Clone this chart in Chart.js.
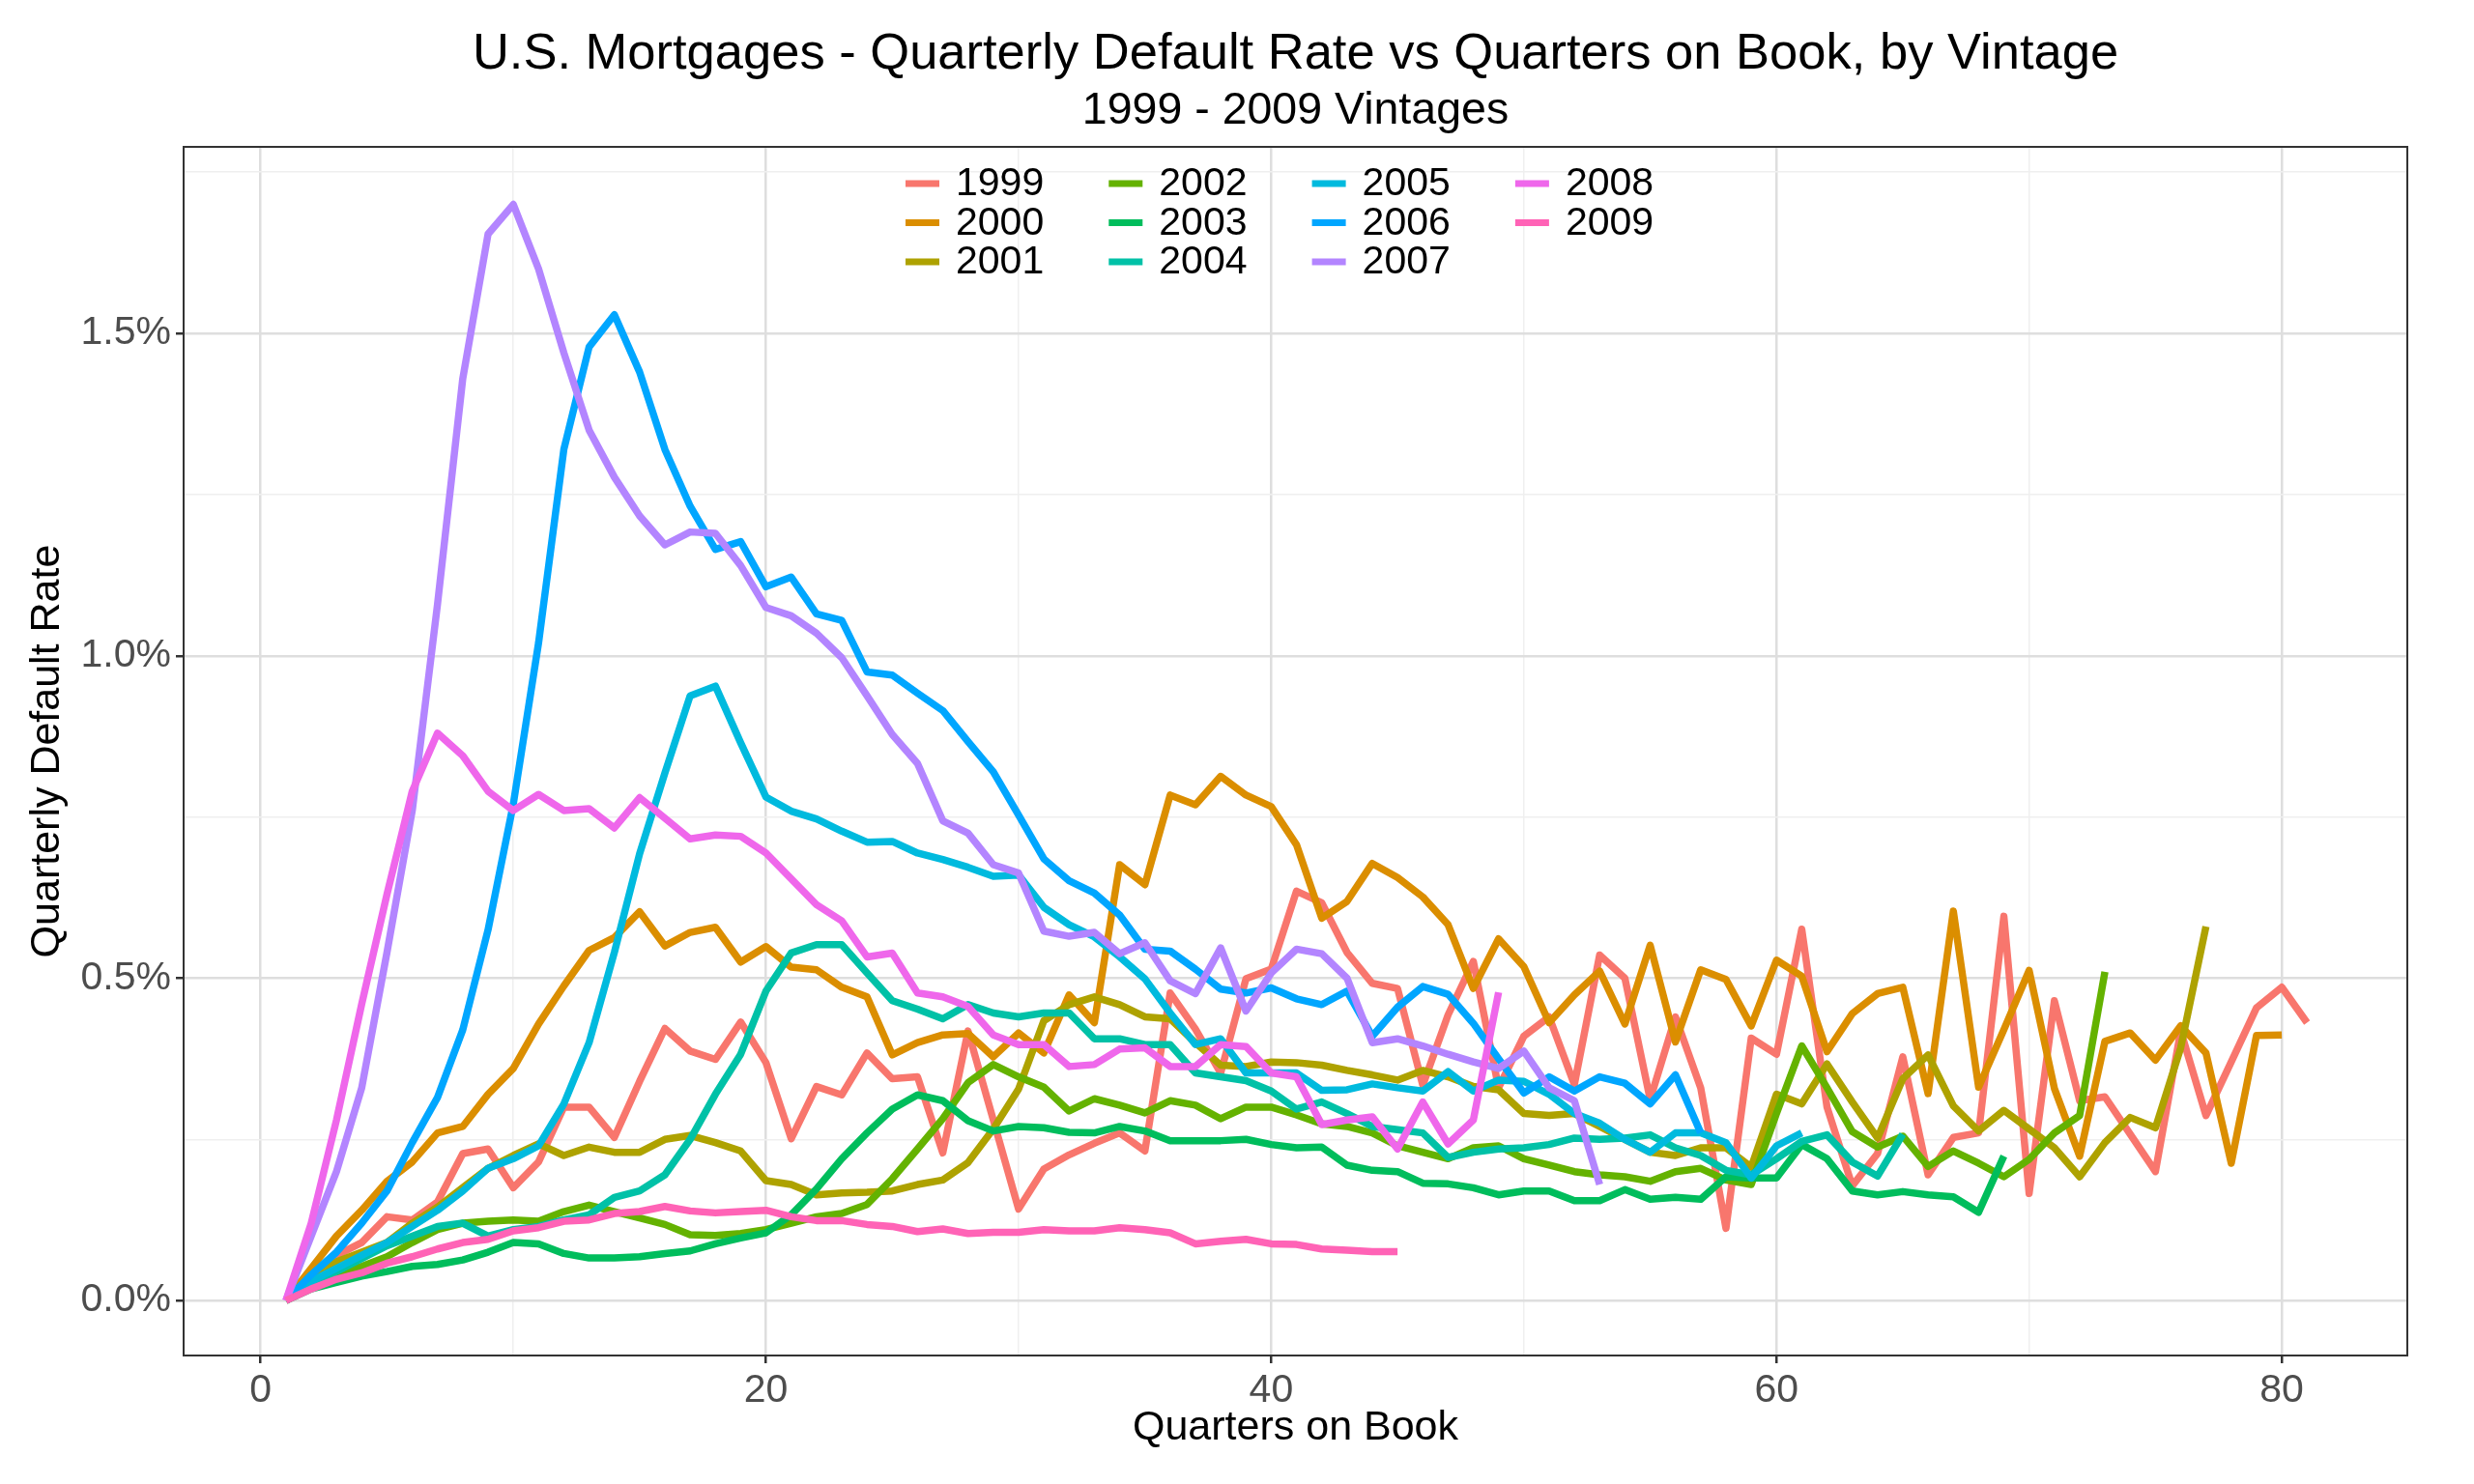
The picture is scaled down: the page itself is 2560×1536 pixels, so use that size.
<!DOCTYPE html>
<html><head><meta charset="utf-8">
<script src="https://cdn.jsdelivr.net/npm/chart.js@4.4.1/dist/chart.umd.min.js"></script>
<style>html,body{margin:0;padding:0;background:#fff}#wrap{width:2560px;height:1536px}</style>
</head><body><div id="wrap"><canvas id="c" width="2560" height="1536"></canvas></div>
<script>
const titleText = 'U.S. Mortgages - Quarterly Default Rate vs Quarters on Book, by Vintage';
const subtitleText = '1999 - 2009 Vintages';
const xTitle = 'Quarters on Book';
const yTitle = 'Quarterly Default Rate';

const quarters = [1,2,3,4,5,6,7,8,9,10,11,12,13,14,15,16,17,18,19,20,21,22,23,24,25,26,27,28,29,30,
  31,32,33,34,35,36,37,38,39,40,41,42,43,44,45,46,47,48,49,50,51,52,53,54,55,56,57,58,59,60,
  61,62,63,64,65,66,67,68,69,70,71,72,73,74,75,76,77,78,79,80,81];
const vintages = ['1999','2000','2001','2002','2003','2004','2005','2006','2007','2008','2009'];

const v1999 = [0, 0.04, 0.07, 0.09, 0.13, 0.125, 0.153, 0.228, 0.235, 0.175,
  0.215, 0.30, 0.30, 0.253, 0.34, 0.422, 0.387, 0.374, 0.432, 0.369,
  0.251, 0.332, 0.319, 0.384, 0.344, 0.347, 0.229, 0.418, 0.28, 0.142,
  0.204, 0.226, 0.244, 0.26, 0.232, 0.477, 0.421, 0.353, 0.499, 0.514,
  0.635, 0.617, 0.54, 0.492, 0.484, 0.334, 0.443, 0.526, 0.33, 0.41,
  0.44, 0.335, 0.536, 0.50, 0.312, 0.44, 0.33, 0.112, 0.407, 0.382,
  0.576, 0.30, 0.178, 0.228, 0.378, 0.195, 0.253, 0.26, 0.596, 0.166,
  0.465, 0.31, 0.316, 0.258, 0.20, 0.418, 0.287, 0.37, 0.454, 0.486,
  0.431];
const v2000 = [0, 0.05, 0.10, 0.14, 0.185, 0.215, 0.26, 0.27, 0.32, 0.36,
  0.429, 0.488, 0.543, 0.563, 0.603, 0.55, 0.571, 0.579, 0.525, 0.549,
  0.517, 0.513, 0.486, 0.471, 0.381, 0.40, 0.412, 0.414, 0.378, 0.415,
  0.384, 0.474, 0.431, 0.676, 0.645, 0.784, 0.769, 0.813, 0.784, 0.766,
  0.707, 0.593, 0.619, 0.678, 0.656, 0.626, 0.583, 0.484, 0.561, 0.518,
  0.431, 0.474, 0.511, 0.429, 0.551, 0.401, 0.513, 0.498, 0.426, 0.528,
  0.503, 0.386, 0.445, 0.476, 0.486, 0.321, 0.604, 0.331, 0.42, 0.512,
  0.329, 0.224, 0.402, 0.415, 0.373, 0.426, 0.384, 0.213, 0.411, 0.412];
const v2001 = [0, 0.04, 0.06, 0.075, 0.09, 0.12, 0.145, 0.175, 0.205, 0.225,
  0.243, 0.225, 0.238, 0.23, 0.23, 0.25, 0.256, 0.245, 0.232, 0.186,
  0.18, 0.164, 0.167, 0.168, 0.17, 0.18, 0.187, 0.214, 0.266, 0.328,
  0.434, 0.459, 0.471, 0.459, 0.44, 0.437, 0.40, 0.365, 0.363, 0.37,
  0.369, 0.365, 0.357, 0.35, 0.342, 0.357, 0.347, 0.332, 0.327, 0.29,
  0.287, 0.29, 0.27, 0.25, 0.23, 0.225, 0.237, 0.237, 0.207, 0.32,
  0.305, 0.367, 0.308, 0.252, 0.344, 0.381, 0.302, 0.263, 0.295, 0.266,
  0.237, 0.192, 0.245, 0.284, 0.268, 0.392, 0.58];
const v2002 = [0, 0.022, 0.04, 0.053, 0.068, 0.09, 0.11, 0.12, 0.123, 0.125,
  0.123, 0.138, 0.148, 0.138, 0.128, 0.118, 0.102, 0.101, 0.104, 0.11,
  0.12, 0.13, 0.135, 0.149, 0.189, 0.235, 0.282, 0.338, 0.366, 0.347,
  0.331, 0.294, 0.313, 0.303, 0.291, 0.31, 0.303, 0.282, 0.30, 0.30,
  0.288, 0.274, 0.27, 0.26, 0.24, 0.23, 0.22, 0.237, 0.24, 0.22,
  0.21, 0.20, 0.195, 0.192, 0.185, 0.20, 0.205, 0.187, 0.18, 0.29,
  0.395, 0.33, 0.262, 0.238, 0.255, 0.208, 0.232, 0.213, 0.192, 0.219,
  0.26, 0.287, 0.51];
const v2003 = [0, 0.018, 0.028, 0.038, 0.045, 0.053, 0.056, 0.063, 0.075, 0.09,
  0.088, 0.073, 0.066, 0.066, 0.068, 0.073, 0.077, 0.088, 0.097, 0.105,
  0.133, 0.173, 0.22, 0.26, 0.297, 0.319, 0.31, 0.279, 0.263, 0.27,
  0.268, 0.261, 0.26, 0.27, 0.263, 0.248, 0.248, 0.248, 0.25, 0.242,
  0.237, 0.238, 0.21, 0.202, 0.20, 0.182, 0.181, 0.175, 0.164, 0.17,
  0.17, 0.155, 0.155, 0.172, 0.157, 0.16, 0.157, 0.192, 0.19, 0.19,
  0.242, 0.22, 0.17, 0.164, 0.169, 0.164, 0.161, 0.137, 0.224];
const v2004 = [0, 0.028, 0.045, 0.065, 0.085, 0.10, 0.115, 0.12, 0.10, 0.11,
  0.115, 0.125, 0.133, 0.16, 0.17, 0.195, 0.25, 0.32, 0.382, 0.48,
  0.539, 0.552, 0.552, 0.508, 0.465, 0.452, 0.437, 0.459, 0.446, 0.44,
  0.446, 0.446, 0.406, 0.406, 0.397, 0.397, 0.353, 0.347, 0.341, 0.325,
  0.297, 0.308, 0.29, 0.27, 0.265, 0.26, 0.222, 0.23, 0.235, 0.237,
  0.242, 0.252, 0.25, 0.252, 0.257, 0.237, 0.225, 0.202, 0.195, 0.22,
  0.247, 0.257, 0.215, 0.193, 0.258];
const v2005 = [0, 0.03, 0.05, 0.07, 0.09, 0.115, 0.14, 0.17, 0.205, 0.22,
  0.24, 0.305, 0.40, 0.54, 0.693, 0.818, 0.938, 0.953, 0.865, 0.781,
  0.759, 0.747, 0.728, 0.711, 0.712, 0.694, 0.684, 0.672, 0.658, 0.66,
  0.61, 0.583, 0.564, 0.533, 0.499, 0.446, 0.397, 0.406, 0.353, 0.353,
  0.353, 0.326, 0.327, 0.336, 0.33, 0.325, 0.355, 0.325, 0.342, 0.34,
  0.32, 0.29, 0.275, 0.25, 0.23, 0.26, 0.26, 0.245, 0.19, 0.24,
  0.26];
const v2006 = [0, 0.04, 0.075, 0.12, 0.17, 0.245, 0.315, 0.42, 0.575, 0.77,
  1.02, 1.32, 1.479, 1.529, 1.44, 1.32, 1.232, 1.165, 1.177, 1.107,
  1.122, 1.065, 1.055, 0.975, 0.97, 0.942, 0.915, 0.867, 0.82, 0.753,
  0.685, 0.651, 0.632, 0.598, 0.545, 0.542, 0.514, 0.483, 0.477, 0.485,
  0.468, 0.459, 0.48, 0.41, 0.455, 0.487, 0.475, 0.43, 0.375, 0.322,
  0.347, 0.325, 0.347, 0.337, 0.305, 0.35, 0.26];
const v2007 = [0, 0.1, 0.2, 0.33, 0.54, 0.76, 1.08, 1.43, 1.654, 1.70,
  1.60, 1.47, 1.35, 1.277, 1.217, 1.172, 1.192, 1.19, 1.14, 1.075,
  1.062, 1.035, 0.997, 0.938, 0.878, 0.833, 0.744, 0.725, 0.676, 0.663,
  0.573, 0.565, 0.571, 0.538, 0.555, 0.496, 0.476, 0.547, 0.449, 0.508,
  0.545, 0.538, 0.50, 0.40, 0.406, 0.395, 0.382, 0.37, 0.36, 0.387,
  0.33, 0.31, 0.18];
const v2008 = [0, 0.12, 0.28, 0.46, 0.63, 0.79, 0.88, 0.845, 0.79, 0.76,
  0.785, 0.76, 0.763, 0.733, 0.78, 0.748, 0.716, 0.722, 0.72, 0.694,
  0.654, 0.614, 0.589, 0.533, 0.539, 0.477, 0.471, 0.456, 0.412, 0.397,
  0.397, 0.363, 0.366, 0.39, 0.392, 0.363, 0.363, 0.397, 0.394, 0.353,
  0.347, 0.273, 0.28, 0.285, 0.235, 0.308, 0.243, 0.28, 0.478];
const v2009 = [0, 0.018, 0.033, 0.043, 0.058, 0.068, 0.08, 0.09, 0.095, 0.108,
  0.113, 0.123, 0.125, 0.135, 0.138, 0.146, 0.139, 0.136, 0.138, 0.14,
  0.13, 0.124, 0.124, 0.118, 0.115, 0.107, 0.111, 0.104, 0.106, 0.106,
  0.11, 0.108, 0.108, 0.113, 0.11, 0.105, 0.088, 0.092, 0.095, 0.088,
  0.087, 0.08, 0.078, 0.076, 0.076];

const seriesValues = [v1999, v2000, v2001, v2002, v2003, v2004, v2005, v2006, v2007, v2008, v2009];
const seriesColors = ['#F8766D','#DB8E00','#AEA200','#64B200','#00BD5C','#00C1A7','#00BADE','#00A6FF','#B385FF','#EF67EB','#FF63B6'];

const xTicks = [0, 10, 20, 30, 40, 50, 60, 70, 80];
const xLabeled = [0, 20, 40, 60, 80];
const yTicks = [0, 0.25, 0.5, 0.75, 1.0, 1.25, 1.5, 1.75];
const yLabeled = [0, 0.5, 1.0, 1.5];

const FONT = "'Liberation Sans', Arial, Helvetica, sans-serif";

const datasets = vintages.map((name, i) => ({
  label: name,
  data: seriesValues[i].map((v, j) => ({x: quarters[j], y: v})),
  borderColor: seriesColors[i],
  backgroundColor: seriesColors[i],
  borderWidth: 7.5,
  borderJoinStyle: 'round',
  borderCapStyle: 'butt',
  pointRadius: 0,
  fill: false,
  tension: 0,
  order: vintages.length - i
}));

const isMajorX = v => xLabeled.includes(v);
const isMajorY = v => yLabeled.some(t => Math.abs(t - v) < 1e-9);

const decorPlugin = {
  id: 'decor',
  afterDatasetsDraw(chart) {
    const {ctx, chartArea: a} = chart;
    ctx.save();
    ctx.strokeStyle = '#333333';
    ctx.lineWidth = 2;
    ctx.strokeRect(a.left, a.top, a.right - a.left, a.bottom - a.top);
    ctx.font = '41px ' + FONT;
    ctx.textBaseline = 'middle';
    ctx.textAlign = 'left';
    chart.data.datasets.forEach((ds, i) => {
      const col = Math.floor(i / 3), row = i % 3;
      const x0 = 937 + col * 210.3;
      const y0 = 190 + row * 40.5;
      ctx.strokeStyle = ds.borderColor;
      ctx.lineWidth = 7;
      ctx.lineCap = 'butt';
      ctx.beginPath();
      ctx.moveTo(x0, y0);
      ctx.lineTo(x0 + 35, y0);
      ctx.stroke();
      ctx.fillStyle = '#000000';
      ctx.fillText(ds.label, x0 + 52, y0 + 1);
    });
    ctx.restore();
  },
  afterDraw(chart) {
    const {ctx, chartArea: a} = chart;
    const cx = (a.left + a.right) / 2;
    ctx.save();
    ctx.fillStyle = '#000000';
    ctx.textAlign = 'center';
    ctx.textBaseline = 'middle';
    ctx.font = '52.5px ' + FONT;
    ctx.fillText(titleText, cx, 57);
    ctx.font = '46.5px ' + FONT;
    ctx.fillText(subtitleText, cx, 115);
    ctx.restore();
  }
};

new Chart(document.getElementById('c'), {
  type: 'line',
  data: { datasets },
  options: {
    responsive: false,
    animation: false,
    devicePixelRatio: 1,
    layout: { padding: { left: 0, right: 69, top: 152, bottom: 0 } },
    plugins: { legend: { display: false }, tooltip: { enabled: false } },
    elements: { point: { radius: 0 }, line: { tension: 0 } },
    scales: {
      x: {
        type: 'linear',
        min: -3.05, max: 84.97,
        afterBuildTicks: s => { s.ticks = xTicks.map(v => ({value: v})); },
        afterFit: s => { s.height = 133; },
        border: { display: false },
        grid: {
          color: c => isMajorX(c.tick.value) ? '#DEDEDE' : '#EFEFEF',
          lineWidth: c => isMajorX(c.tick.value) ? 2.5 : 1.5,
          tickColor: c => isMajorX(c.tick.value) ? '#333333' : 'rgba(0,0,0,0)',
          tickWidth: 2.5,
          tickLength: 8,
          drawTicks: true
        },
        ticks: {
          autoSkip: false, maxRotation: 0,
          callback: v => isMajorX(v) ? String(v) : '',
          font: { family: FONT, size: 41 },
          color: '#4D4D4D',
          padding: 4
        },
        title: { display: true, text: xTitle, color: '#000000', font: { family: FONT, size: 43 }, padding: { top: 0, bottom: 32 } }
      },
      y: {
        type: 'linear',
        min: -0.0852, max: 1.7893,
        afterBuildTicks: s => { s.ticks = yTicks.map(v => ({value: v})); },
        afterFit: s => { s.width = 190; },
        border: { display: false },
        grid: {
          color: c => isMajorY(c.tick.value) ? '#DEDEDE' : '#EFEFEF',
          lineWidth: c => isMajorY(c.tick.value) ? 2.5 : 1.5,
          tickColor: c => isMajorY(c.tick.value) ? '#333333' : 'rgba(0,0,0,0)',
          tickWidth: 2.5,
          tickLength: 8,
          drawTicks: true
        },
        ticks: {
          autoSkip: false,
          callback: v => isMajorY(v) ? v.toFixed(1) + '%' : '',
          font: { family: FONT, size: 41 },
          color: '#4D4D4D',
          padding: 5
        },
        title: { display: true, text: yTitle, color: '#000000', font: { family: FONT, size: 43 }, padding: { top: 23, bottom: 0 } }
      }
    }
  },
  plugins: [decorPlugin]
});
</script></body></html>
